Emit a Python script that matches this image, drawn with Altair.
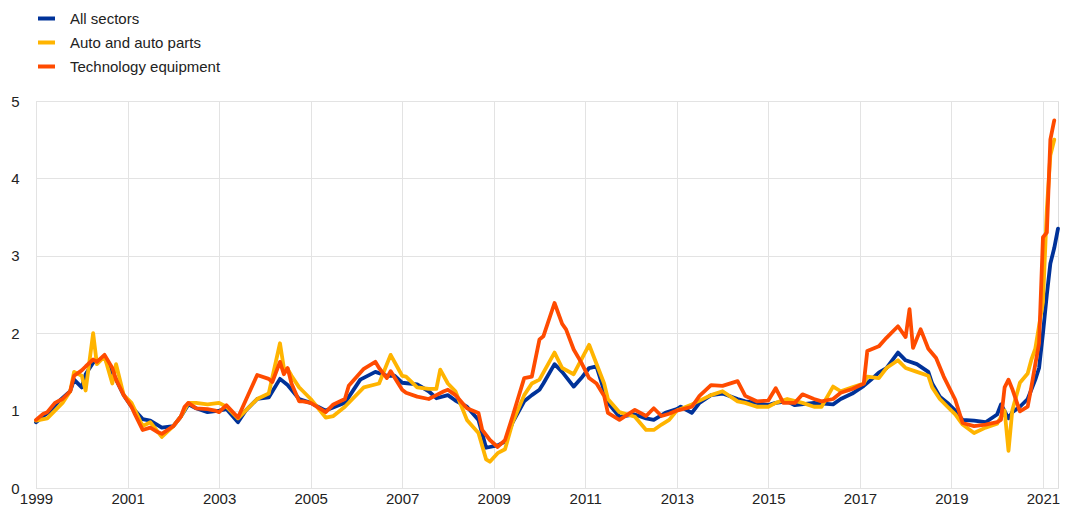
import altair as alt
import pandas as pd

SERIES = ["All sectors", "Auto and auto parts", "Technology equipment"]
COLORS = ["#003299", "#FFB400", "#FF4B00"]

ALL_DATES = ["1999-01","1999-03","1999-05","1999-07","1999-10","1999-11","2000-01","2000-02","2000-04","2000-07",
             "2000-09","2000-12","2001-02","2001-05","2001-07","2001-10","2002-01","2002-03","2002-05","2002-07",
             "2002-10","2003-01","2003-03","2003-06","2003-08","2003-11","2004-02","2004-05","2004-07","2004-10",
             "2005-01","2005-05","2005-10","2006-02","2006-06","2006-09","2006-11","2007-01","2007-05","2007-08",
             "2007-10","2008-01","2008-03","2008-06","2008-09","2008-11","2009-02","2009-04","2009-06","2009-09",
             "2009-11","2010-01","2010-02","2010-05","2010-07","2010-10","2010-12","2011-02","2011-04","2011-07",
             "2011-10","2012-02","2012-05","2012-07","2012-10","2013-01","2013-02","2013-05","2013-07","2013-10",
             "2014-01","2014-05","2014-07","2014-10","2015-01","2015-03","2015-06","2015-08","2016-01","2016-06",
             "2016-08","2016-11","2017-02","2017-04","2017-06","2017-08","2017-11","2018-01","2018-04","2018-07",
             "2018-08","2018-10","2018-12","2019-02","2019-04","2019-07","2019-10","2020-01","2020-02","2020-04",
             "2020-05","2020-07","2020-09","2020-11","2020-12","2021-01","2021-02","2021-03","2021-04","2021-05"]
ALL_VALUES = [0.85,0.93,1.00,1.12,1.25,1.40,1.30,1.47,1.62,1.68,
              1.50,1.20,1.05,0.89,0.87,0.78,0.80,0.92,1.08,1.03,
              0.98,1.00,1.02,0.85,1.00,1.15,1.17,1.41,1.33,1.15,
              1.10,1.00,1.10,1.40,1.50,1.45,1.45,1.36,1.34,1.25,
              1.16,1.20,1.13,1.05,0.88,0.52,0.55,0.60,0.85,1.12,
              1.20,1.27,1.35,1.60,1.50,1.31,1.42,1.55,1.57,1.10,
              0.92,0.95,0.90,0.88,0.97,1.02,1.05,0.97,1.10,1.20,
              1.22,1.15,1.12,1.10,1.07,1.10,1.12,1.07,1.10,1.08,
              1.15,1.22,1.32,1.40,1.49,1.55,1.75,1.65,1.60,1.50,
              1.35,1.18,1.10,1.00,0.88,0.87,0.85,0.95,1.08,0.90,
              0.98,1.05,1.15,1.40,1.55,2.00,2.50,2.90,3.10,3.35]

AUTO_DATES = ["1999-01","1999-04","1999-06","1999-08","1999-10","1999-11","2000-01","2000-02","2000-04","2000-05",
              "2000-07","2000-09","2000-10","2000-12","2001-02","2001-05","2001-07","2001-10","2002-01","2002-03",
              "2002-05","2002-07","2002-10","2003-01","2003-03","2003-06","2003-08","2003-11","2004-02","2004-05",
              "2004-06","2004-07","2004-08","2004-10","2004-11","2005-01","2005-05","2005-07","2005-10","2006-03",
              "2006-07","2006-10","2007-01","2007-02","2007-05","2007-08","2007-10","2007-11","2008-01","2008-03",
              "2008-06","2008-09","2008-11","2008-12","2009-02","2009-04","2009-06","2009-09","2009-11","2010-01",
              "2010-05","2010-07","2010-10","2011-02","2011-06","2011-07","2011-10","2012-02","2012-05","2012-07",
              "2012-09","2012-11","2013-01","2013-05","2013-10","2014-01","2014-05","2014-07","2014-10","2015-01",
              "2015-03","2015-06","2015-10","2016-01","2016-03","2016-06","2016-08","2016-11","2017-02","2017-03",
              "2017-06","2017-08","2017-11","2018-01","2018-04","2018-07","2018-08","2018-10","2018-12","2019-02",
              "2019-04","2019-07","2019-10","2020-01","2020-03","2020-04","2020-05","2020-07","2020-09","2020-10",
              "2020-11","2021-01","2021-02","2021-03","2021-04"]
AUTO_VALUES = [0.87,0.90,1.00,1.10,1.25,1.50,1.45,1.26,2.00,1.60,
               1.70,1.35,1.60,1.20,1.10,0.80,0.85,0.66,0.80,0.92,
               1.10,1.10,1.08,1.10,1.05,0.90,1.00,1.15,1.22,1.87,
               1.55,1.54,1.45,1.30,1.25,1.15,0.91,0.93,1.05,1.30,
               1.35,1.72,1.45,1.44,1.30,1.28,1.28,1.53,1.35,1.25,
               0.88,0.71,0.37,0.34,0.45,0.50,0.85,1.20,1.35,1.40,
               1.75,1.55,1.47,1.85,1.35,1.15,0.98,0.92,0.75,0.75,
               0.82,0.88,1.00,1.08,1.20,1.25,1.12,1.10,1.05,1.05,
               1.10,1.15,1.10,1.05,1.05,1.31,1.25,1.30,1.35,1.44,
               1.42,1.55,1.65,1.55,1.50,1.45,1.30,1.15,1.05,0.95,
               0.82,0.71,0.78,0.83,1.00,0.48,1.00,1.36,1.48,1.66,
               1.80,2.40,3.60,4.30,4.50]

TECH_DATES = ["1999-01","1999-03","1999-04","1999-06","1999-08","1999-10","1999-11","2000-01","2000-02","2000-04",
              "2000-05","2000-07","2000-09","2000-10","2000-12","2001-02","2001-03","2001-05","2001-07","2001-09",
              "2001-10","2002-01","2002-03","2002-04","2002-05","2002-07","2002-10","2002-12","2003-01","2003-03",
              "2003-06","2003-08","2003-11","2004-02","2004-03","2004-05","2004-06","2004-07","2004-08","2004-10",
              "2004-11","2005-01","2005-05","2005-07","2005-10","2005-11","2006-03","2006-06","2006-07","2006-09",
              "2006-10","2007-01","2007-02","2007-05","2007-08","2007-10","2007-12","2008-01","2008-03","2008-06",
              "2008-09","2008-10","2008-12","2009-02","2009-04","2009-06","2009-09","2009-11","2010-01","2010-02",
              "2010-05","2010-07","2010-08","2010-10","2010-12","2011-02","2011-04","2011-06","2011-07","2011-10",
              "2012-02","2012-05","2012-07","2012-09","2012-11","2013-01","2013-05","2013-07","2013-10","2014-01",
              "2014-05","2014-07","2014-10","2015-01","2015-03","2015-05","2015-08","2015-10","2016-01","2016-03",
              "2016-06","2016-08","2016-11","2017-02","2017-03","2017-06","2017-08","2017-11","2018-01","2018-02",
              "2018-03","2018-05","2018-07","2018-09","2018-11","2019-02","2019-04","2019-07","2019-10","2020-01",
              "2020-02","2020-03","2020-04","2020-05","2020-07","2020-09","2020-10","2020-11","2020-12","2021-01",
              "2021-02","2021-03","2021-04"]
TECH_VALUES = [0.88,0.96,0.98,1.10,1.15,1.25,1.45,1.52,1.57,1.66,
               1.63,1.72,1.55,1.40,1.20,1.05,0.95,0.75,0.78,0.72,
               0.70,0.80,0.92,1.05,1.10,1.03,1.02,1.00,0.98,1.07,
               0.91,1.13,1.46,1.41,1.37,1.63,1.47,1.55,1.35,1.12,
               1.12,1.10,0.98,1.08,1.15,1.32,1.54,1.63,1.55,1.42,
               1.51,1.27,1.23,1.18,1.15,1.20,1.25,1.27,1.20,1.03,
               0.97,0.75,0.62,0.53,0.62,0.93,1.42,1.44,1.92,1.96,
               2.39,2.12,2.05,1.79,1.62,1.42,1.35,1.19,0.97,0.88,
               1.01,0.93,1.03,0.93,0.96,1.00,1.05,1.19,1.33,1.32,
               1.38,1.19,1.12,1.13,1.29,1.10,1.10,1.21,1.15,1.12,
               1.15,1.23,1.28,1.35,1.77,1.83,1.94,2.09,1.95,2.31,
               1.81,2.05,1.80,1.68,1.44,1.14,0.84,0.80,0.82,0.85,
               0.88,1.30,1.40,1.28,0.99,1.05,1.31,1.60,1.87,3.24,
               3.30,4.50,4.75]

frames = []
for name, dates, vals in [(SERIES[0], ALL_DATES, ALL_VALUES),
                          (SERIES[1], AUTO_DATES, AUTO_VALUES),
                          (SERIES[2], TECH_DATES, TECH_VALUES)]:
    frames.append(pd.DataFrame({"date": [d + "-01" for d in dates], "value": vals, "series": name}))
df = pd.concat(frames, ignore_index=True)

FONT = "Liberation Sans"
TEXT = "#222222"
GRID = "#e3e3e3"

x_ticks = [alt.DateTime(year=y, month=1, date=1, utc=True) for y in range(1999, 2022, 2)]

chart = alt.Chart(df).mark_line(strokeWidth=3.8, strokeJoin="round", strokeCap="round").encode(
    x=alt.X("date:T",
            scale=alt.Scale(type="utc",
                            domain=[alt.DateTime(year=1999, month=1, date=1, utc=True),
                                    alt.DateTime(year=2021, month=5, date=1, utc=True)]),
            axis=alt.Axis(title=None, values=x_ticks, format="%Y", grid=True, gridColor=GRID,
                          domain=False, ticks=False, labelPadding=3, labelFontSize=15,
                          labelFont=FONT, labelColor=TEXT, labelFlush=False, labelOverlap=False)),
    y=alt.Y("value:Q",
            scale=alt.Scale(domain=[0, 5], nice=False, zero=True),
            axis=alt.Axis(title=None, values=[0, 1, 2, 3, 4, 5], grid=True, gridColor=GRID,
                          domain=False, ticks=False, labelPadding=17, labelFontSize=15,
                          labelFont=FONT, labelColor=TEXT)),
    color=alt.Color("series:N",
                    scale=alt.Scale(domain=SERIES, range=COLORS),
                    legend=alt.Legend(title=None, orient="none", legendX=0, legendY=-93,
                                      symbolType="stroke", symbolSize=289, symbolStrokeWidth=4,
                                      labelFontSize=15, labelFont=FONT, labelColor=TEXT,
                                      labelOffset=13, rowPadding=5, padding=0)),
    order=alt.Order("date:T"),
).properties(
    width=1022, height=387,
    autosize=alt.AutoSizeParams(type="none"),
    padding={"left": 28, "top": 93, "right": 3, "bottom": 31},
).configure_view(stroke=None).configure(background="white")

chart.save("out.html", embed_options={"renderer": "svg", "actions": False})
